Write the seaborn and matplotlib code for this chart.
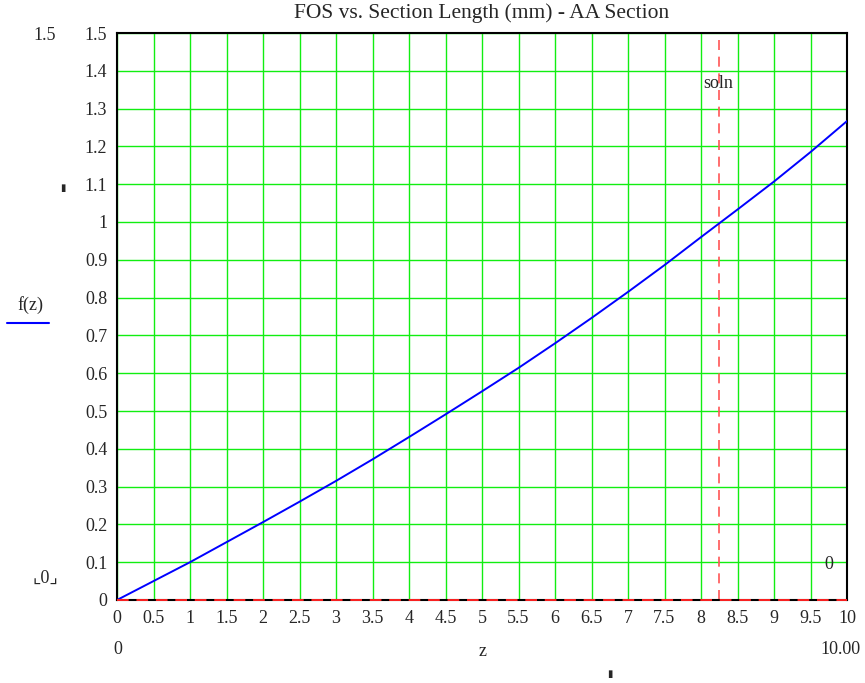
import numpy as np
import pandas as pd
import matplotlib
matplotlib.use("Agg")
import matplotlib.pyplot as plt
import seaborn as sns

# data
z_vals = [0, 0.5, 1, 1.5, 2, 2.5, 3, 3.5, 4, 4.5, 5,
          5.5, 6, 6.5, 7, 7.5, 8, 8.5, 9, 9.5, 10]
f_vals = [0, 0.05, 0.10, 0.153, 0.206, 0.26, 0.315, 0.372, 0.431, 0.491, 0.552,
          0.614, 0.679, 0.746, 0.815, 0.886, 0.96, 1.033, 1.107, 1.185, 1.267]
soln = 8.24
x_ticks = [0, 0.5, 1, 1.5, 2, 2.5, 3, 3.5, 4, 4.5, 5, 5.5, 6, 6.5, 7, 7.5, 8, 8.5, 9, 9.5, 10]
x_labels = ["0", "0.5", "1", "1.5", "2", "2.5", "3", "3.5", "4", "4.5", "5",
            "5.5", "6", "6.5", "7", "7.5", "8", "8.5", "9", "9.5", "10"]
y_ticks = [0, 0.1, 0.2, 0.3, 0.4, 0.5, 0.6, 0.7, 0.8, 0.9, 1, 1.1, 1.2, 1.3, 1.4, 1.5]
y_labels = ["0", "0.1", "0.2", "0.3", "0.4", "0.5", "0.6", "0.7", "0.8", "0.9",
            "1", "1.1", "1.2", "1.3", "1.4", "1.5"]

df = pd.DataFrame({"z": z_vals, "f": f_vals})

sns.set_style("white")
plt.rcParams["font.family"] = ["Liberation Serif", "DejaVu Sans"]

fig = plt.figure(figsize=(8.65, 6.83), dpi=100)
ax = fig.add_axes([117 / 865, 1 - 600 / 683, 730 / 865, 567 / 683])

# grid
for x in x_ticks:
    ax.axvline(x, color="#11ee11", lw=1.0, zorder=1)
for y in y_ticks:
    ax.axhline(y, color="#11ee11", lw=1.0, zorder=1)

# curve
sns.lineplot(data=df, x="z", y="f", color="#0000ff", lw=1.4, ax=ax, zorder=3)

# marker lines
ax.axvline(soln, color="#ff5555", lw=1.2, ls=(0, (6, 4)), zorder=2)
ax.axhline(0, color="#ff2222", lw=1.4, ls=(0, (6, 4)), zorder=5, clip_on=False)

ax.set_xlim(0, 10)
ax.set_ylim(0, 1.5)
ax.set_xticks(x_ticks)
ax.set_xticklabels(x_labels)
ax.set_yticks(y_ticks)
ax.set_yticklabels(y_labels)
ax.tick_params(length=0, labelsize=13, pad=7)
ax.set_xlabel("")
ax.set_ylabel("")
for s in ax.spines.values():
    s.set_color("black")
    s.set_linewidth(1.5)

ax.set_title("FOS vs. Section Length (mm) - AA Section", fontsize=15.5, pad=11)

# inside labels
ax.text(soln, 1.366, "soln", fontsize=13, ha="center", va="center")
ax.text(9.75, 0.095, "0", fontsize=13, ha="center", va="center")

# extra figure texts
fig.text(45 / 865, 1 - 35 / 683, "1.5", fontsize=13, ha="center", va="center")
fig.text(45 / 865, 1 - 578 / 683, "\u231e0\u231f", fontsize=13, ha="center", va="center")
fig.text(30 / 865, 1 - 305 / 683, "f(z)", fontsize=13, ha="center", va="center")
fig.add_artist(plt.Line2D([7 / 865, 49 / 865], [1 - 323 / 683, 1 - 323 / 683],
                          color="#0000ff", lw=1.5))
fig.text(118 / 865, 1 - 650 / 683, "0", fontsize=13, ha="center", va="center")
fig.text(483 / 865, 1 - 652 / 683, "z", fontsize=13, ha="center", va="center")
fig.text(840 / 865, 1 - 650 / 683, "10.00", fontsize=13, ha="center", va="center")
fig.text(63 / 865, 1 - 188 / 683, "\u25ae", fontsize=7, ha="center", va="center",
         family=["DejaVu Sans"])
fig.text(610 / 865, 1 - 674 / 683, "\u25ae", fontsize=7, ha="center", va="center",
         family=["DejaVu Sans"])

fig.savefig("out.png", dpi=100)
